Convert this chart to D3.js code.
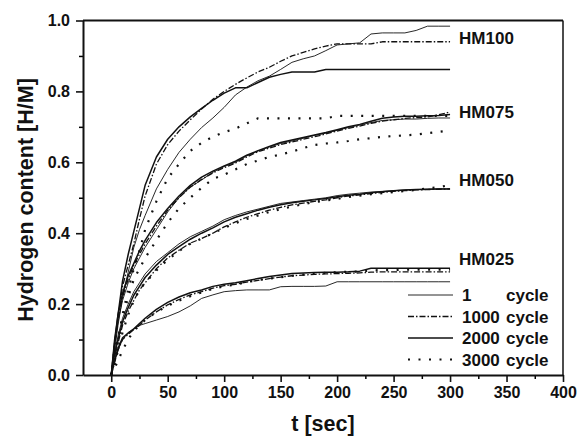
<!DOCTYPE html>
<html>
<head>
<meta charset="utf-8">
<script src="https://cdn.jsdelivr.net/npm/d3@7"></script>
<style>
  body { margin: 0; background: #fff; }
  text { font-family: "Liberation Sans", Arial, sans-serif; font-weight: bold; fill: #111; }
</style>
</head>
<body>
<div id="chart"></div>
<script>
// shared time grid (sec)
const times = [0, 3, 6, 10, 15, 20, 25, 30, 40, 50, 60, 70, 80, 90, 100, 110, 120, 130, 140, 150,
  160, 170, 180, 190, 200, 210, 220, 230, 240, 250, 260, 270, 280, 290, 300];

const alloys = ["HM100", "HM075", "HM050", "HM025"];
const cycles = ["1", "1000", "2000", "3000"];
const xTicks = [0, 50, 100, 150, 200, 250, 300, 350, 400];
const yTicks = [0, 0.2, 0.4, 0.6, 0.8, 1.0];

// hydrogen content [H/M] per alloy / cycle count
const hm100_1 = [0, 0.07, 0.14, 0.22, 0.29, 0.36, 0.41, 0.45, 0.525, 0.58, 0.628, 0.665, 0.698, 0.725, 0.755, 0.79, 0.812, 0.83, 0.843, 0.862,
  0.882, 0.892, 0.90, 0.915, 0.931, 0.934, 0.937, 0.962, 0.965, 0.965, 0.965, 0.972, 0.984, 0.984, 0.984];
const hm100_1000 = [0, 0.08, 0.16, 0.25, 0.31, 0.37, 0.44, 0.505, 0.595, 0.65, 0.688, 0.72, 0.75, 0.778, 0.80, 0.82, 0.838, 0.855, 0.868, 0.885,
  0.90, 0.91, 0.92, 0.928, 0.934, 0.934, 0.934, 0.934, 0.94, 0.94, 0.94, 0.94, 0.94, 0.94, 0.94];
const hm100_2000 = [0, 0.09, 0.17, 0.265, 0.34, 0.405, 0.47, 0.535, 0.615, 0.665, 0.70, 0.728, 0.752, 0.775, 0.795, 0.81, 0.81, 0.825, 0.84, 0.848,
  0.855, 0.855, 0.855, 0.862, 0.862, 0.862, 0.862, 0.862, 0.862, 0.862, 0.862, 0.862, 0.862, 0.862, 0.862];
const hm100_3000 = [0, 0.05, 0.10, 0.17, 0.24, 0.30, 0.35, 0.41, 0.49, 0.555, 0.595, 0.632, 0.655, 0.672, 0.685, 0.695, 0.71, 0.724, 0.724, 0.724,
  0.724, 0.724, 0.724, 0.724, 0.731, 0.731, 0.731, 0.731, 0.731, 0.731, 0.731, 0.731, 0.731, 0.731, 0.731];

const hm075_1 = [0, 0.09, 0.15, 0.21, 0.26, 0.30, 0.33, 0.36, 0.41, 0.46, 0.50, 0.53, 0.55, 0.572, 0.588, 0.60, 0.618, 0.632, 0.643, 0.653,
  0.66, 0.668, 0.676, 0.682, 0.69, 0.698, 0.705, 0.712, 0.718, 0.72, 0.722, 0.722, 0.724, 0.725, 0.725];
const hm075_1000 = [0, 0.09, 0.16, 0.22, 0.27, 0.31, 0.34, 0.37, 0.42, 0.465, 0.50, 0.53, 0.552, 0.57, 0.585, 0.598, 0.615, 0.63, 0.64, 0.65,
  0.657, 0.665, 0.672, 0.68, 0.688, 0.696, 0.702, 0.71, 0.716, 0.72, 0.724, 0.726, 0.728, 0.734, 0.742];
const hm075_2000 = [0, 0.10, 0.17, 0.23, 0.28, 0.315, 0.35, 0.38, 0.43, 0.47, 0.505, 0.535, 0.558, 0.575, 0.59, 0.603, 0.62, 0.633, 0.645, 0.656,
  0.663, 0.67, 0.677, 0.684, 0.692, 0.70, 0.707, 0.716, 0.724, 0.728, 0.73, 0.73, 0.731, 0.732, 0.735];
const hm075_3000 = [0, 0.05, 0.10, 0.16, 0.22, 0.27, 0.30, 0.33, 0.38, 0.43, 0.47, 0.50, 0.528, 0.553, 0.565, 0.58, 0.595, 0.605, 0.615, 0.622,
  0.63, 0.64, 0.649, 0.653, 0.656, 0.66, 0.665, 0.668, 0.672, 0.674, 0.676, 0.678, 0.682, 0.686, 0.69];

const hm050_1 = [0, 0.06, 0.11, 0.16, 0.20, 0.235, 0.26, 0.285, 0.32, 0.345, 0.37, 0.39, 0.405, 0.42, 0.438, 0.45, 0.46, 0.468, 0.476, 0.484,
  0.488, 0.492, 0.496, 0.50, 0.506, 0.51, 0.513, 0.516, 0.518, 0.52, 0.522, 0.523, 0.524, 0.525, 0.525];
const hm050_1000 = [0, 0.05, 0.09, 0.14, 0.18, 0.21, 0.24, 0.26, 0.30, 0.33, 0.352, 0.372, 0.385, 0.40, 0.418, 0.432, 0.445, 0.455, 0.465, 0.473,
  0.48, 0.485, 0.49, 0.494, 0.50, 0.505, 0.508, 0.512, 0.515, 0.518, 0.52, 0.522, 0.523, 0.524, 0.525];
const hm050_2000 = [0, 0.06, 0.10, 0.15, 0.19, 0.225, 0.25, 0.275, 0.31, 0.34, 0.362, 0.383, 0.40, 0.415, 0.432, 0.445, 0.455, 0.465, 0.473, 0.48,
  0.486, 0.49, 0.494, 0.498, 0.503, 0.507, 0.51, 0.514, 0.517, 0.52, 0.522, 0.523, 0.524, 0.525, 0.525];
const hm050_3000 = [0, 0.03, 0.07, 0.12, 0.17, 0.21, 0.24, 0.26, 0.295, 0.325, 0.35, 0.37, 0.385, 0.40, 0.415, 0.428, 0.44, 0.45, 0.46, 0.468,
  0.475, 0.482, 0.488, 0.492, 0.497, 0.502, 0.506, 0.51, 0.513, 0.516, 0.519, 0.522, 0.526, 0.53, 0.536];

const hm025_1 = [0, 0.04, 0.07, 0.10, 0.12, 0.13, 0.14, 0.145, 0.155, 0.165, 0.178, 0.195, 0.216, 0.226, 0.235, 0.238, 0.24, 0.24, 0.24, 0.249,
  0.25, 0.25, 0.25, 0.251, 0.263, 0.263, 0.263, 0.263, 0.263, 0.263, 0.263, 0.263, 0.263, 0.263, 0.263];
const hm025_1000 = [0, 0.035, 0.07, 0.10, 0.115, 0.128, 0.14, 0.155, 0.178, 0.198, 0.213, 0.226, 0.235, 0.245, 0.252, 0.256, 0.262, 0.267, 0.272, 0.276,
  0.28, 0.282, 0.284, 0.285, 0.286, 0.287, 0.288, 0.29, 0.291, 0.291, 0.291, 0.291, 0.291, 0.291, 0.291];
const hm025_2000 = [0, 0.04, 0.075, 0.105, 0.118, 0.13, 0.145, 0.16, 0.185, 0.205, 0.22, 0.232, 0.24, 0.25, 0.256, 0.26, 0.266, 0.272, 0.278, 0.282,
  0.286, 0.288, 0.289, 0.29, 0.29, 0.291, 0.293, 0.301, 0.301, 0.301, 0.301, 0.301, 0.301, 0.301, 0.301];
const hm025_3000 = [0, 0.02, 0.04, 0.07, 0.10, 0.125, 0.14, 0.155, 0.178, 0.195, 0.21, 0.222, 0.233, 0.243, 0.25, 0.255, 0.262, 0.268, 0.272, 0.276,
  0.28, 0.283, 0.286, 0.288, 0.29, 0.291, 0.292, 0.295, 0.296, 0.296, 0.297, 0.297, 0.297, 0.297, 0.297];

const seriesValues = {
  HM100: [hm100_1, hm100_1000, hm100_2000, hm100_3000],
  HM075: [hm075_1, hm075_1000, hm075_2000, hm075_3000],
  HM050: [hm050_1, hm050_1000, hm050_2000, hm050_3000],
  HM025: [hm025_1, hm025_1000, hm025_2000, hm025_3000]
};

// label anchor value for each alloy (y position of its tag)
const alloyLabelY = [0.95, 0.743, 0.55, 0.326];

// line style per cycle count
const lineStyles = [
  { width: 0.9, dash: null },
  { width: 1.3, dash: "6,2,1.5,2" },
  { width: 1.5, dash: null },
  { width: 2.2, dash: "2,8.5" }
];

const width = 577, height = 436;
const margin = { top: 20.5, right: 14, bottom: 61, left: 83 };

const svg = d3.select("#chart")
  .append("svg")
  .attr("width", width)
  .attr("height", height);

const xScale = d3.scaleLinear()
  .domain([-25, 400])
  .range([margin.left, width - margin.right]);

const yScale = d3.scaleLinear()
  .domain([0, 1])
  .range([height - margin.bottom, margin.top]);

// minor ticks (no labels)
const xMinor = d3.range(25, 400, 50);
const yMinor = [0.1, 0.3, 0.5, 0.7, 0.9];

svg.append("g")
  .attr("transform", `translate(0,${yScale(0)})`)
  .call(d3.axisBottom(xScale).tickValues(xMinor).tickSize(4).tickFormat(""))
  .call(g => g.select(".domain").remove())
  .selectAll("line").attr("stroke-width", 1.5);

svg.append("g")
  .attr("transform", `translate(${xScale(-25)},0)`)
  .call(d3.axisLeft(yScale).tickValues(yMinor).tickSize(4).tickFormat(""))
  .call(g => g.select(".domain").remove())
  .selectAll("line").attr("stroke-width", 1.5);

// major axes
const xAxisG = svg.append("g")
  .attr("class", "x-axis")
  .attr("transform", `translate(0,${yScale(0)})`)
  .call(d3.axisBottom(xScale).tickValues(xTicks).tickSize(7).tickSizeOuter(0).tickPadding(5));

const yAxisG = svg.append("g")
  .attr("class", "y-axis")
  .attr("transform", `translate(${xScale(-25)},0)`)
  .call(d3.axisLeft(yScale).tickValues(yTicks).tickSize(7).tickSizeOuter(0).tickPadding(6)
    .tickFormat(d3.format(".1f")));

[xAxisG, yAxisG].forEach(g => {
  g.select(".domain").attr("stroke-width", 2).attr("stroke", "#111");
  g.selectAll(".tick line").attr("stroke-width", 1.6).attr("stroke", "#111");
  g.selectAll(".tick text")
    .style("font-size", "16px")
    .style("font-family", "'Liberation Sans', Arial, sans-serif")
    .style("font-weight", "bold")
    .attr("fill", "#111");
});

// frame top + right
svg.append("line")
  .attr("x1", xScale(-25)).attr("x2", xScale(400))
  .attr("y1", yScale(1)).attr("y2", yScale(1))
  .attr("stroke", "#111").attr("stroke-width", 2);
svg.append("line")
  .attr("x1", xScale(400)).attr("x2", xScale(400))
  .attr("y1", yScale(1)).attr("y2", yScale(0))
  .attr("stroke", "#111").attr("stroke-width", 1.5);

// axis titles
svg.append("text")
  .attr("x", (xScale(-25) + xScale(400)) / 2)
  .attr("y", 431)
  .attr("text-anchor", "middle")
  .style("font-size", "21.5px")
  .text("t [sec]");

svg.append("text")
  .attr("transform", "translate(32.5,200) rotate(-90)")
  .attr("text-anchor", "middle")
  .style("font-size", "21.5px")
  .text("Hydrogen content [H/M]");

// curves
const line = d3.line()
  .x((d, i) => xScale(times[i]))
  .y(d => yScale(d));

alloys.forEach((alloy, ai) => {
  seriesValues[alloy].forEach((vals, ci) => {
    const st = lineStyles[ci];
    svg.append("path")
      .datum(vals)
      .attr("class", `curve ${alloy}`)
      .attr("fill", "none")
      .attr("stroke", "#111")
      .attr("stroke-width", st.width)
      .attr("stroke-dasharray", st.dash)
      .attr("stroke-linejoin", "round")
      .attr("d", line);
  });

  svg.append("text")
    .attr("x", xScale(308))
    .attr("y", yScale(alloyLabelY[ai]) + 6)
    .style("font-size", "17px")
    .text(alloy);
});

// legend
const legendRowY = [295, 316.5, 338, 359.5];
const legend = svg.append("g").attr("class", "legend");

cycles.forEach((c, i) => {
  const st = lineStyles[i];
  legend.append("line")
    .attr("x1", 408).attr("x2", 453)
    .attr("y1", legendRowY[i]).attr("y2", legendRowY[i])
    .attr("stroke", "#111")
    .attr("stroke-width", st.width)
    .attr("stroke-dasharray", st.dash);
  legend.append("text")
    .attr("x", 462)
    .attr("y", legendRowY[i] + 6)
    .style("font-size", "17px")
    .text(c);
  legend.append("text")
    .attr("x", 506)
    .attr("y", legendRowY[i] + 6)
    .style("font-size", "17px")
    .text("cycle");
});
</script>
</body>
</html>
